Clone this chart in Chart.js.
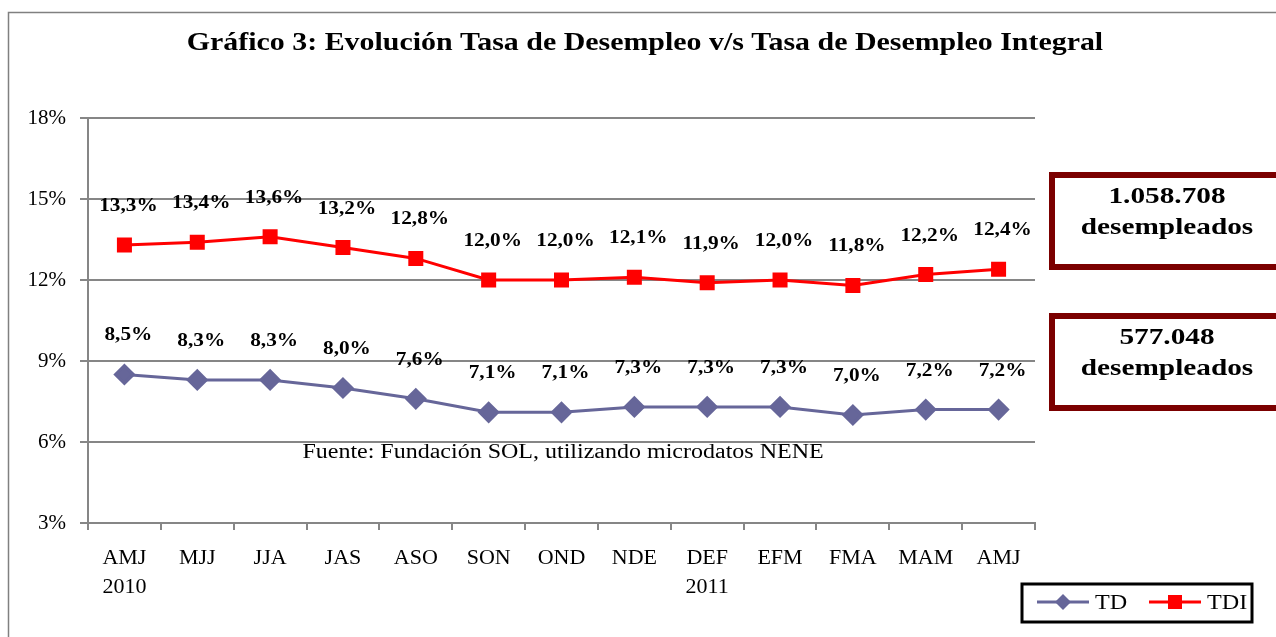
<!DOCTYPE html>
<html>
<head>
<meta charset="utf-8">
<script src="https://cdn.jsdelivr.net/npm/chart.js@4"></script>
<style>
    html, body { margin: 0; padding: 0; background: #fff; }
    #wrap { position: relative; width: 1276px; height: 637px; }
</style>
</head>
<body>
<div id="wrap"><canvas id="chart" width="1276" height="637"></canvas></div>
<script>
// Trimestres móviles
const periods = [['AMJ', '2010'], 'MJJ', 'JJA', 'JAS', 'ASO', 'SON', 'OND', 'NDE', ['DEF', '2011'], 'EFM', 'FMA', 'MAM', 'AMJ'];

// Tasa de desempleo (TD) y tasa de desempleo integral (TDI), en %
const tdValues = [8.5, 8.3, 8.3, 8.0, 7.6, 7.1, 7.1, 7.3, 7.3, 7.3, 7.0, 7.2, 7.2];
const tdiValues = [13.3, 13.4, 13.6, 13.2, 12.8, 12.0, 12.0, 12.1, 11.9, 12.0, 11.8, 12.2, 12.4];

const yTicks = [3, 6, 9, 12, 15, 18];

const titleText = 'Gráfico 3: Evolución Tasa de Desempleo v/s Tasa de Desempleo Integral';
const sourceText = 'Fuente: Fundación SOL, utilizando microdatos NENE';
const tdiBoxText = ['1.058.708', 'desempleados'];
const tdBoxText = ['577.048', 'desempleados'];

const serif = '"Liberation Serif", "Times New Roman", serif';
const tdColor = '#666699';
const tdiColor = '#ff0000';
const boxColor = '#7b0000';

function fmt(v) {
    return v.toFixed(1).replace('.', ',') + '%';
}

// The original text looks a bit wider than plain Times, so stretch it a little.
function wideText(ctx, text, x, y, font, sx, align) {
    ctx.save();
    ctx.font = font;
    ctx.textAlign = align || 'center';
    ctx.textBaseline = 'middle';
    ctx.translate(x, y);
    ctx.scale(sx, 1);
    ctx.fillText(text, 0, 0);
    ctx.restore();
}

// Everything that Excel drew around the plot: title, value labels, boxes, legend.
const decorations = {
    id: 'decorations',
    afterDraw(chart) {
        const ctx = chart.ctx;
        ctx.save();

        // outer frame (right and bottom edges fall outside the picture)
        ctx.strokeStyle = '#808080';
        ctx.lineWidth = 1.5;
        ctx.strokeRect(8.5, 12.5, 1400, 700);

        ctx.fillStyle = '#000';
        wideText(ctx, titleText, 645, 43, 'bold 26px ' + serif, 1.15);

        // value labels
        chart.data.datasets.forEach((ds, i) => {
            const meta = chart.getDatasetMeta(i);
            meta.data.forEach((pt, j) => {
                wideText(ctx, fmt(ds.data[j]), pt.x + 4, pt.y - 39, 'bold 19px ' + serif, 1.12);
            });
        });

        wideText(ctx, sourceText, 563, 453, '20px ' + serif, 1.2);

        // boxes with the number of unemployed
        const boxes = [[172, tdiBoxText], [313, tdBoxText]];
        boxes.forEach(([top, lines]) => {
            ctx.strokeStyle = boxColor;
            ctx.lineWidth = 6;
            ctx.strokeRect(1052, top + 3, 300, 92);
            ctx.fillStyle = '#000';
            wideText(ctx, lines[0], 1167, top + 25, 'bold 24px ' + serif, 1.22);
            wideText(ctx, lines[1], 1167, top + 56, 'bold 24px ' + serif, 1.22);
        });

        // legend
        ctx.strokeStyle = '#000';
        ctx.lineWidth = 3;
        ctx.strokeRect(1022, 584, 230, 38);
        const ly = 602;
        ctx.lineWidth = 3;
        ctx.strokeStyle = tdColor;
        ctx.beginPath(); ctx.moveTo(1037, ly); ctx.lineTo(1089, ly); ctx.stroke();
        ctx.fillStyle = tdColor;
        ctx.beginPath();
        ctx.moveTo(1063, ly - 8); ctx.lineTo(1071, ly); ctx.lineTo(1063, ly + 8); ctx.lineTo(1055, ly);
        ctx.closePath(); ctx.fill();
        ctx.strokeStyle = tdiColor;
        ctx.beginPath(); ctx.moveTo(1149, ly); ctx.lineTo(1201, ly); ctx.stroke();
        ctx.fillStyle = tdiColor;
        ctx.fillRect(1168, ly - 7, 14, 14);
        ctx.fillStyle = '#000';
        wideText(ctx, 'TD', 1095, ly + 1, '21px ' + serif, 1.15, 'left');
        wideText(ctx, 'TDI', 1207, ly + 1, '21px ' + serif, 1.15, 'left');

        ctx.restore();
    }
};

new Chart(document.getElementById('chart'), {
    type: 'line',
    data: {
        labels: periods,
        datasets: [
            {
                label: 'TD',
                data: tdValues,
                borderColor: tdColor,
                backgroundColor: tdColor,
                borderWidth: 3,
                pointStyle: 'rectRot',
                pointRadius: 9,
                pointHoverRadius: 9,
                tension: 0
            },
            {
                label: 'TDI',
                data: tdiValues,
                borderColor: tdiColor,
                backgroundColor: tdiColor,
                borderWidth: 3,
                pointStyle: 'rect',
                pointRadius: 8.5,
                pointHoverRadius: 8.5,
                tension: 0
            }
        ]
    },
    options: {
        responsive: false,
        animation: false,
        layout: {
            padding: { left: 0, top: 118, right: 241, bottom: 0 }
        },
        plugins: {
            legend: { display: false },
            title: { display: false },
            tooltip: { enabled: false }
        },
        scales: {
            x: {
                offset: true,
                afterFit(axis) {
                    axis.height = 114;
                },
                grid: {
                    drawOnChartArea: false,
                    offset: true,
                    tickLength: 7,
                    color: '#868686',
                    lineWidth: 2
                },
                border: { color: '#868686', width: 2 },
                ticks: {
                    color: '#000',
                    font: { family: serif, size: 22, lineHeight: 1.3 },
                    padding: 14,
                    maxRotation: 0,
                    autoSkip: false
                }
            },
            y: {
                min: 3,
                max: 18,
                afterBuildTicks(axis) {
                    axis.ticks = yTicks.map(v => ({ value: v }));
                },
                afterFit(axis) {
                    axis.width = 88;
                },
                grid: {
                    color: '#868686',
                    lineWidth: 2,
                    tickLength: 8
                },
                border: { color: '#868686', width: 2 },
                ticks: {
                    color: '#000',
                    font: { family: serif, size: 21 },
                    padding: 14,
                    callback: v => v + '%'
                }
            }
        }
    },
    plugins: [decorations]
});
</script>
</body>
</html>
